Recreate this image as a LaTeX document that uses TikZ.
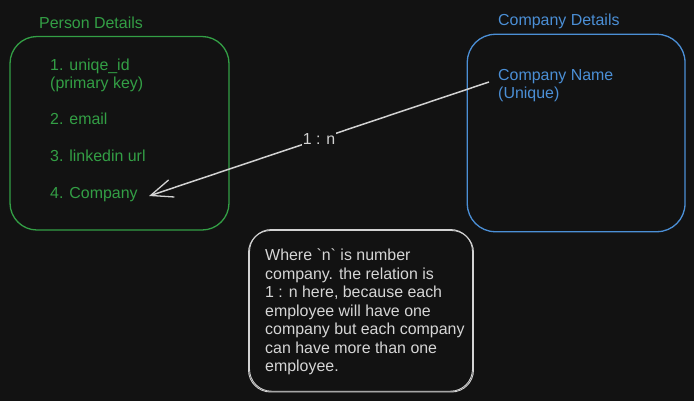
\documentclass[tikz,border=0pt]{standalone}
\usepackage{fontspec}
\setmainfont{Liberation Sans}
\usetikzlibrary{arrows.meta}
\definecolor{bg}{HTML}{121212}
\definecolor{grn}{HTML}{339F45}
\definecolor{blu}{HTML}{4B8FD6}
\definecolor{lgray}{HTML}{D2D2D2}
\definecolor{ngray}{HTML}{D6D6D6}
\tikzset{
  txt/.style={anchor=base west, inner sep=0pt, font=\fontsize{16}{18.5}\selectfont},
  greentxt/.style={txt, text=grn},
  bluetxt/.style={txt, text=blu},
  greenbox/.style={draw=grn, line width=1.3bp, rounded corners=27bp},
  bluebox/.style={draw=blu, line width=1.3bp, rounded corners=28bp},
  notebox/.style={draw=lgray, line width=0.9bp, rounded corners=22bp},
  conn/.style={draw=lgray, line width=1.5bp, -{Straight Barb[length=22bp,width=18bp,line width=1.3bp]}},
  lbl/.style={fill=bg, text=lgray, inner xsep=0.5bp, inner ysep=2bp, font=\fontsize{16}{18.5}\selectfont}
}
\begin{document}
\begin{tikzpicture}[x=1bp,y=-1bp]
\fill[bg] (0,0) rectangle (694,401);
\useasboundingbox (0,0) rectangle (694,401);

% Person details
\node[greentxt] (ptitle) at (39,28) {Person Details};
\draw[greenbox] (10,36.5) rectangle (229,230);
\node[greentxt] (p1) at (50,70) {1. uniqe\_id};
\node[greentxt] (p1b) at (50,88.5) {(primary key)};
\node[greentxt] (p2) at (50,124) {2. email};
\node[greentxt] (p3) at (50,161) {3. linkedin url};
\node[greentxt] (p4) at (50,198) {4. Company};

% Company details
\node[bluetxt] (ctitle) at (498,25.5) {Company Details};
\draw[bluebox] (467.3,34.3) rectangle (685,231.7);
\node[bluetxt] (c1) at (498,80) {Company Name};
\node[bluetxt] (c1b) at (498,98.5) {(Unique)};

% Note
\draw[notebox] (248.5,230.5) rectangle (473.5,392);
\draw[notebox] (249.5,229.5) rectangle (472.5,391.2);
\node[txt, text=ngray] (note) at (265,260.7) {Where \textasciigrave n\textasciigrave{} is number};
\node[txt, text=ngray] (note2) at (265,279.2) {company. the relation is};
\node[txt, text=ngray] (note3) at (265,297.7) {1 : n here, because each};
\node[txt, text=ngray] (note4) at (265,316.2) {employee will have one};
\node[txt, text=ngray] (note5) at (265,334.7) {company but each company};
\node[txt, text=ngray] (note6) at (265,353.2) {can have more than one};
\node[txt, text=ngray] (note7) at (265,371.7) {employee.};

% Connector
\coordinate (src) at (489,82);
\coordinate (dst) at (149,196);
\draw[conn] (src) -- node[lbl] (rel) {1 : n} (dst);
\end{tikzpicture}
\end{document}
